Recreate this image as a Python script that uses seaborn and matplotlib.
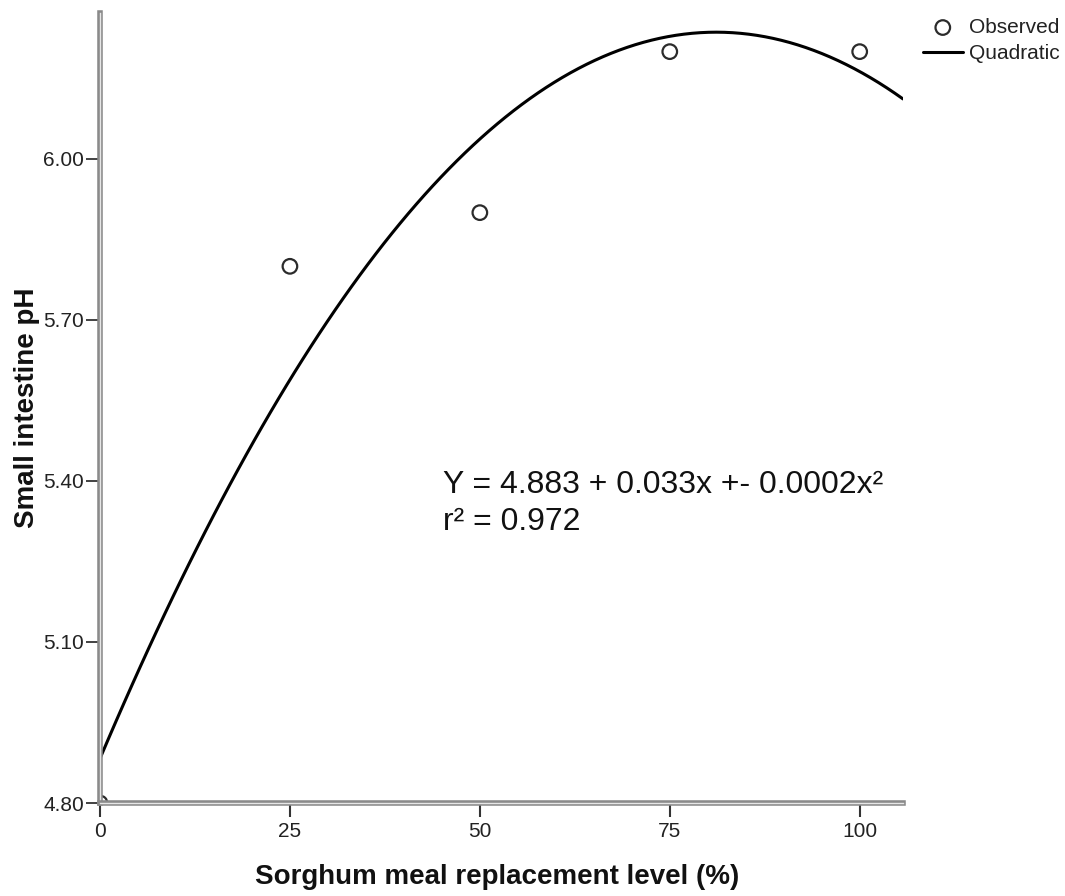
import matplotlib
matplotlib.use("Agg")
import matplotlib.pyplot as plt
import matplotlib.patheffects as pe
import seaborn as sns
import numpy as np
import pandas as pd

# ---- data ----
replacement_level = [0, 25, 50, 75, 100]
intestine_ph = [4.80, 5.80, 5.90, 6.20, 6.20]
x_ticks = [0, 25, 50, 75, 100]
y_ticks = [4.80, 5.10, 5.40, 5.70, 6.00]
y_tick_labels = ["4.80", "5.10", "5.40", "5.70", "6.00"]
equation_line1 = "Y = 4.883 + 0.033x +- 0.0002x\u00b2"
equation_line2 = "r\u00b2 = 0.972"
legend_labels = ["Observed", "Quadratic"]

df = pd.DataFrame({"level": replacement_level, "ph": intestine_ph})

sns.set_theme(style="white")
plt.rcParams["font.family"] = ["Liberation Sans", "DejaVu Sans"]

fig = plt.figure(figsize=(10.65, 8.96), dpi=100)
ax = fig.add_axes([100 / 1065, 1 - 803 / 896, 803 / 1065, 790 / 896])
ax.set_xlim(0, 105.7)
ax.set_ylim(4.80, 6.272)

# quadratic fit line across the full x range
sns.regplot(data=df, x="level", y="ph", order=2, ci=None, truncate=False,
            scatter=False, ax=ax,
            line_kws=dict(color="black", linewidth=2.2, zorder=3))
line = ax.get_lines()[-1]

sns.scatterplot(data=df, x="level", y="ph", ax=ax, marker="o", s=110,
                color="none", edgecolor="#2b2b2b", linewidth=1.6,
                legend=False, zorder=4)
points = ax.collections[-1]

ax.set_xlim(0, 105.7)
ax.set_ylim(4.80, 6.272)

ax.set_xticks(x_ticks)
ax.set_xticklabels([str(v) for v in x_ticks])
ax.set_yticks(y_ticks)
ax.set_yticklabels(y_tick_labels)

for side in ["top", "right"]:
    ax.spines[side].set_visible(False)
for side in ["left", "bottom"]:
    sp = ax.spines[side]
    sp.set_visible(True)
    sp.set_color("#e6e6e6")
    sp.set_linewidth(1.0)
    sp.set_path_effects([pe.Stroke(linewidth=4.0, foreground="#8a8a8a"), pe.Normal()])
    sp.set_zorder(5)

ax.tick_params(axis="y", direction="out", length=10, width=1.3, color="#333333",
               labelsize=15, labelcolor="#222222", pad=1.5, left=True)
ax.tick_params(axis="x", direction="out", length=10, width=1.5, color="#333333",
               labelsize=15, labelcolor="#222222", pad=4, bottom=True)

ax.set_xlabel("Sorghum meal replacement level (%)", fontsize=20, fontweight="bold",
              color="#111111")
ax.set_ylabel("Small intestine pH", fontsize=20, fontweight="bold", color="#111111")
ax.xaxis.set_label_coords(0.495, -0.077)
ax.yaxis.set_label_coords(-0.075, 0.5)

ax.text(45.1, 5.378, equation_line1, fontsize=23, color="#111111", va="baseline", ha="left")
ax.text(45.1, 5.3087, equation_line2, fontsize=23, color="#111111", va="baseline", ha="left")

fig.legend(handles=[points, line], labels=legend_labels, loc="upper left",
           bbox_to_anchor=(923 / 1065, 1 - 18 / 896), frameon=False, fontsize=15,
           handlelength=1.9, handletextpad=0.3, labelspacing=0.35, borderpad=0,
           borderaxespad=0, labelcolor="#222222")

ax.set_facecolor("white")
fig.patch.set_facecolor("white")
fig.savefig("out.png", dpi=100, facecolor="white")
